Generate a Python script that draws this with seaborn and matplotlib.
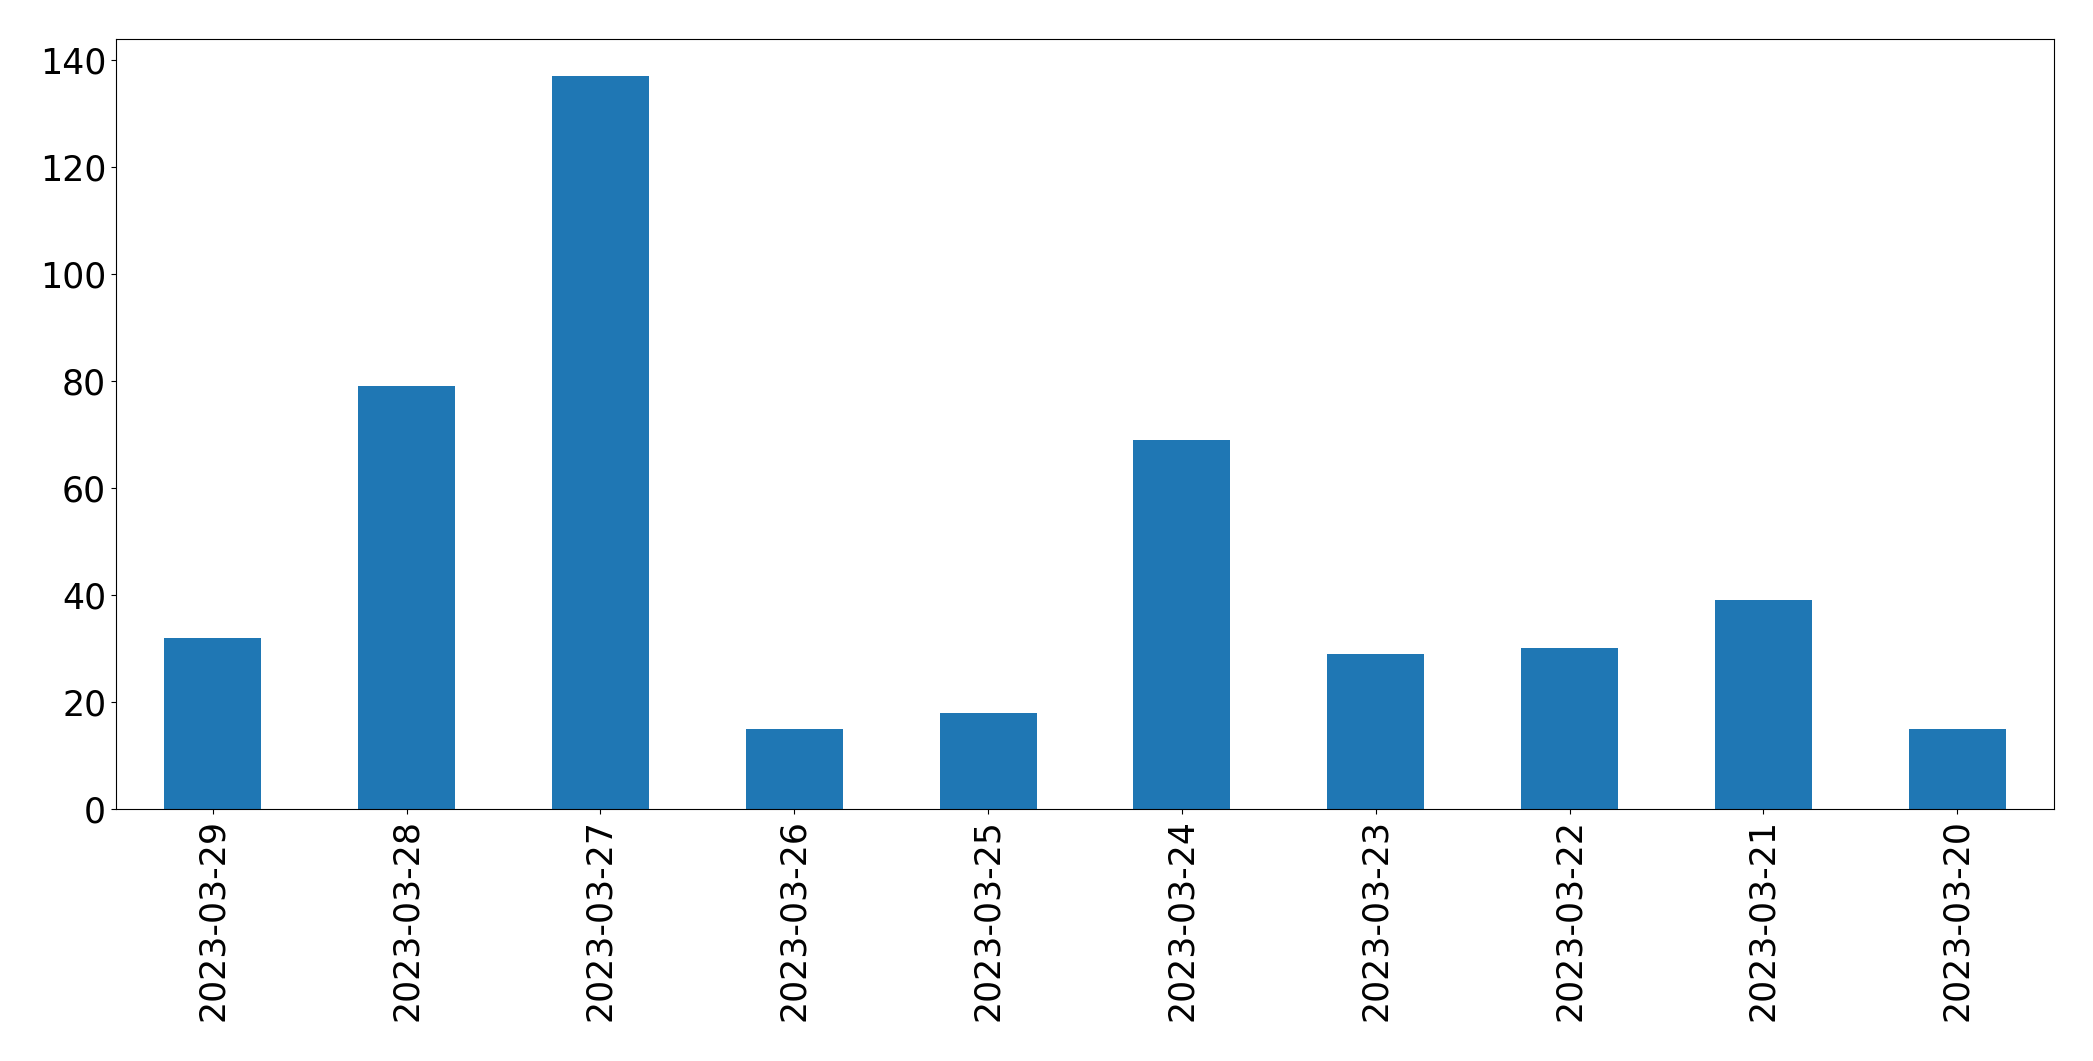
import matplotlib
matplotlib.use("Agg")
import matplotlib.pyplot as plt
import seaborn as sns
import pandas as pd

dates = ['2023-03-29', '2023-03-28', '2023-03-27', '2023-03-26', '2023-03-25',
         '2023-03-24', '2023-03-23', '2023-03-22', '2023-03-21', '2023-03-20']
counts = [32, 79, 137, 15, 18, 69, 29, 30, 39, 15]

df = pd.DataFrame({'date': dates, 'count': counts})

fig, ax = plt.subplots(figsize=(20.93, 10.61), dpi=100)
fig.subplots_adjust(left=0.0554, right=0.9814, top=0.9632, bottom=0.2375)

sns.barplot(data=df, x='date', y='count', order=dates, color='#1f77b4',
            saturation=1, width=0.5, ax=ax)

ax.set_xlim(-0.5, len(dates) - 0.5)
ax.set_ylim(0, max(counts) * 1.05)
ax.set_xlabel('')
ax.set_ylabel('')
ax.tick_params(labelsize=25)
plt.xticks(rotation=90)
plt.yticks(rotation=0)

fig.savefig('out.png', dpi=100)
